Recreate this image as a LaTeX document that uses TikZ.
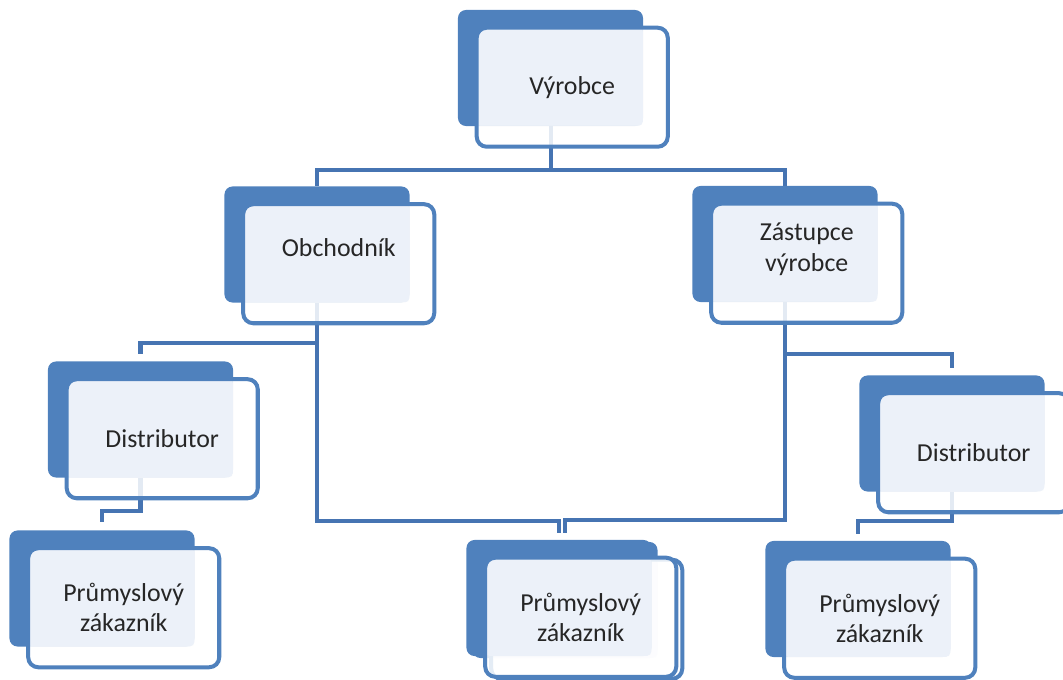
\documentclass[tikz,border=0pt]{standalone}
\usepackage{fontspec}
\setmainfont{Carlito}
\usetikzlibrary{positioning,backgrounds}
\definecolor{tileblue}{RGB}{79,129,189}
\definecolor{lineblue}{RGB}{70,116,178}
\definecolor{paleblue}{RGB}{236,241,249}

\begin{document}
\begin{tikzpicture}[x=0.025cm, y=-0.025cm,
    every node/.style={font=\fontsize{18.4}{21.5}\selectfont},
    tile/.style={fill=tileblue, rounded corners=0.2cm, minimum width=4.625cm, minimum height=2.9cm, inner sep=0pt},
    card/.style={draw=tileblue, line width=2.85pt, fill=white, fill opacity=0.85, text opacity=1, text=black!85,
        rounded corners=0.25cm, minimum width=4.775cm, minimum height=2.975cm, anchor=north west, align=center,
        path picture={\fill[paleblue, fill opacity=1, rounded corners=0.1cm] (path picture bounding box.north west) rectangle ([shift={(-25,-21)}]path picture bounding box.south east);}},
    raised/.style={text depth=0.8cm},
    conn/.style={draw=lineblue, line width=2.85pt}]
    \useasboundingbox (0,0) rectangle (1063,679);

    % Vyrobce
    \node[tile] (vyr0) at (550.5,68) {};
    \node[card] (vyr) at ([shift={(17,16)}]vyr0.north west) {Výrobce};

    % second row
    \node[tile] (obch0) at (317,244.5) {};
    \node[card, raised] (obch) at ([shift={(17,16)}]obch0.north west) {Obchodník};
    \node[tile] (zast0) at (785,244) {};
    \node[card, raised] (zast) at ([shift={(17,16)}]zast0.north west) {Zástupce\\výrobce};

    % distributors
    \node[tile] (distl0) at (140.5,419.5) {};
    \node[card] (distl) at ([shift={(17,16)}]distl0.north west) {Distributor};
    \node[tile] (distr0) at (952,433.5) {};
    \node[card] (distr) at ([shift={(17,16)}]distr0.north west) {Distributor};

    % customers
    \node[tile] (prumL0) at (102,588.5) {};
    \node[card] (prumL) at ([shift={(17,16)}]prumL0.north west) {Průmyslový\\zákazník};
    \node[tile] (prumMM0) at (565,600) {};
    \node[card] (prumMM) at ([shift={(17,16)}]prumMM0.north west) {};
    \node[tile] (prumM0) at (559,598) {};
    \node[card] (prumM) at ([shift={(17,16)}]prumM0.north west) {Průmyslový\\zákazník};
    \node[tile] (prumR0) at (858,599) {};
    \node[card] (prumR) at ([shift={(17,16)}]prumR0.north west) {Průmyslový\\zákazník};

    % Connectors
    \begin{scope}[on background layer]
        \draw[conn] (vyr0.south) -- ++(0,44) -| (obch0.north);
        \draw[conn] (vyr0.south) -- ++(0,44) -| (zast0.north);
        \draw[conn] (obch0.south) -- ++(0,40) -| ([shift={(0,-7)}]distl0.north);
        \draw[conn] (obch0.south) -- ++(0,218) -| ([shift={(0,-7)}]prumM0.north);
        \draw[conn] (zast0.south) -- ++(0,218) -| ([shift={(0,-9)}]prumMM0.north);
        \draw[conn] (zast0.south) -- ++(0,52) -| ([shift={(0,-7)}]distr0.north);
        \draw[conn] (distl0.south) -- ++(0,33) -| ([shift={(0,-8)}]prumL0.north);
        \draw[conn] (distr0.south) -- ++(0,29) -| ([shift={(0,-7)}]prumR0.north);
    \end{scope}
\end{tikzpicture}
\end{document}
